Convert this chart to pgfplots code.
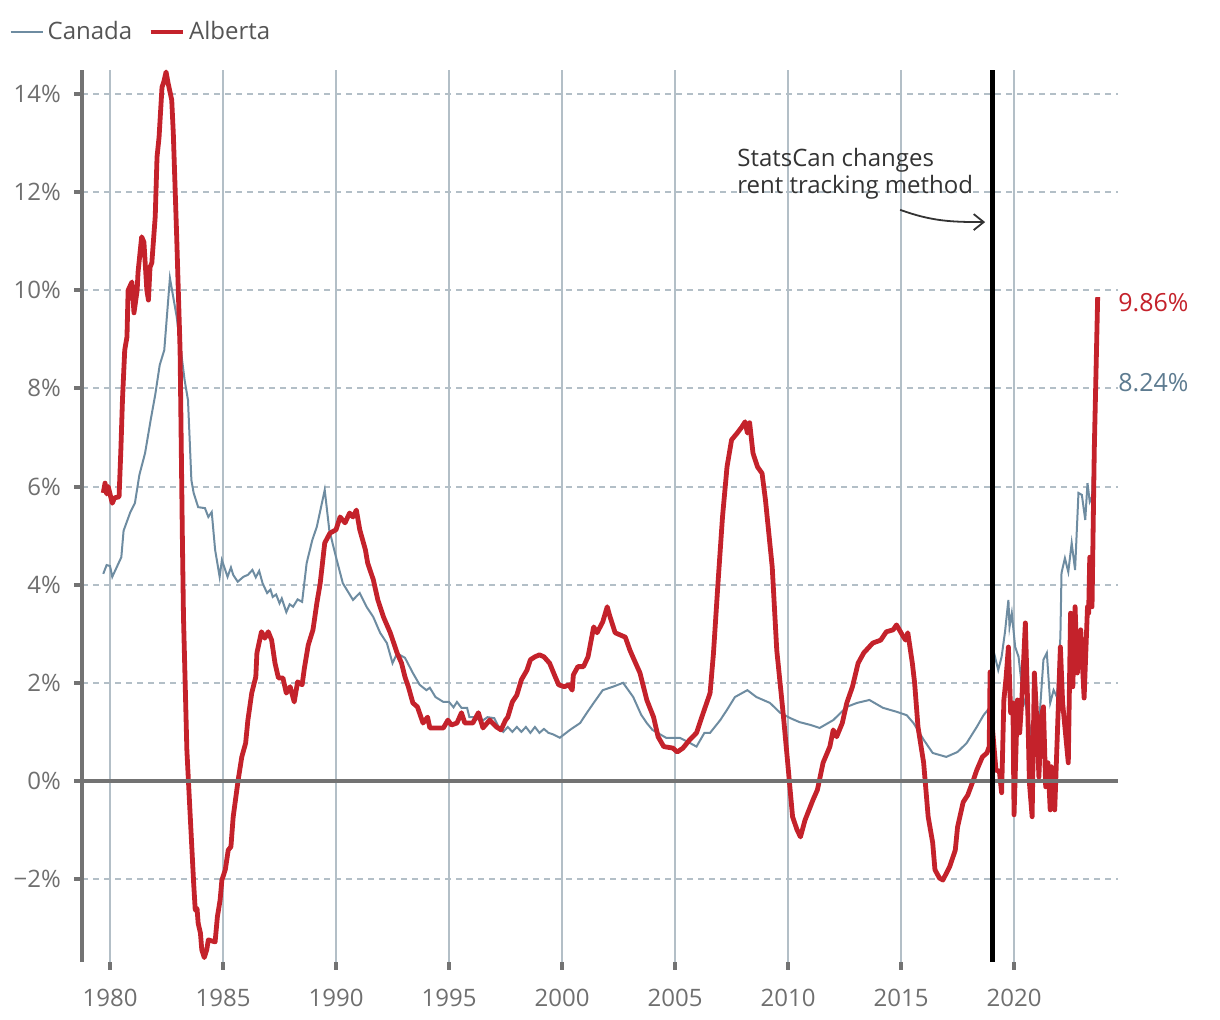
\documentclass[border=0pt]{standalone}
\usepackage{fontspec}
\setmainfont{Open Sans}
\usepackage{pgfplots}
\usepackage{pgfplotstable}
\pgfplotsset{compat=1.18}
\usetikzlibrary{arrows.meta}

\definecolor{cancol}{HTML}{6E8CA1}
\definecolor{abcol}{HTML}{C4222B}
\definecolor{axgray}{HTML}{737373}
\definecolor{gridcol}{HTML}{B3BFC7}
\definecolor{tickcol}{HTML}{6F6F6F}
\definecolor{legcol}{HTML}{555555}
\definecolor{notecol}{HTML}{333333}
\definecolor{canlab}{HTML}{5D7B90}

% Canada, year-over-year rent change (%)
\pgfplotstableread{
year val
1979.70 4.22
1979.85 4.40
1980.00 4.38
1980.10 4.16
1980.30 4.36
1980.50 4.56
1980.60 5.10
1980.90 5.48
1981.10 5.66
1981.30 6.24
1981.55 6.68
1981.80 7.36
1982.00 7.87
1982.20 8.48
1982.40 8.78
1982.65 10.25
1982.95 9.46
1983.30 8.17
1983.45 7.76
1983.60 6.13
1983.70 5.87
1983.90 5.58
1984.20 5.56
1984.35 5.38
1984.50 5.48
1984.65 4.71
1984.85 4.16
1984.95 4.50
1985.20 4.16
1985.35 4.35
1985.45 4.20
1985.65 4.06
1985.90 4.16
1986.10 4.20
1986.30 4.30
1986.45 4.15
1986.60 4.28
1986.75 4.03
1986.95 3.83
1987.10 3.90
1987.20 3.75
1987.35 3.80
1987.50 3.62
1987.60 3.72
1987.80 3.44
1987.95 3.60
1988.10 3.55
1988.30 3.70
1988.50 3.65
1988.70 4.44
1988.95 4.91
1989.15 5.18
1989.50 5.93
1989.70 5.12
1990.00 4.56
1990.30 4.03
1990.75 3.69
1991.05 3.83
1991.35 3.55
1991.65 3.34
1991.95 3.02
1992.25 2.81
1992.50 2.40
1992.70 2.60
1993.05 2.51
1993.40 2.20
1993.70 1.96
1994.00 1.85
1994.15 1.90
1994.40 1.71
1994.75 1.61
1995.00 1.61
1995.20 1.50
1995.35 1.61
1995.55 1.49
1995.80 1.49
1995.90 1.30
1996.20 1.30
1996.40 1.20
1996.70 1.30
1997.00 1.28
1997.20 1.10
1997.40 1.00
1997.60 1.10
1997.80 1.00
1998.00 1.10
1998.20 1.00
1998.40 1.10
1998.60 0.98
1998.80 1.10
1999.00 0.98
1999.20 1.06
1999.40 0.98
1999.60 0.95
1999.90 0.88
2000.35 1.04
2000.80 1.18
2001.10 1.39
2001.40 1.59
2001.80 1.85
2002.25 1.92
2002.70 2.00
2003.15 1.71
2003.50 1.35
2003.75 1.18
2004.00 1.04
2004.60 0.88
2005.20 0.88
2005.55 0.80
2005.95 0.70
2006.30 0.98
2006.55 0.98
2007.00 1.24
2007.30 1.45
2007.65 1.71
2008.20 1.85
2008.60 1.71
2009.20 1.59
2009.65 1.39
2010.10 1.28
2010.50 1.20
2011.00 1.14
2011.40 1.08
2012.00 1.24
2012.60 1.51
2013.05 1.59
2013.60 1.65
2014.20 1.49
2014.80 1.41
2015.25 1.34
2015.55 1.18
2016.00 0.84
2016.40 0.57
2017.00 0.49
2017.50 0.59
2017.90 0.77
2018.35 1.10
2018.65 1.34
2018.95 1.51
2019.05 2.73
2019.30 2.26
2019.45 2.53
2019.60 3.04
2019.75 3.69
2019.80 3.14
2019.90 3.42
2020.05 2.73
2020.20 2.53
2020.40 1.71
2020.60 1.39
2020.85 0.63
2021.00 1.18
2021.15 1.45
2021.30 2.47
2021.45 2.61
2021.60 1.59
2021.75 1.85
2021.90 1.71
2022.05 2.93
2022.10 4.24
2022.25 4.54
2022.40 4.26
2022.55 4.85
2022.70 4.30
2022.85 5.87
2023.00 5.83
2023.15 5.32
2023.25 6.07
2023.35 5.69
2023.45 5.79
2023.67 8.24
}\canada

% Alberta
\pgfplotstableread{
year val
1979.70 5.87
1979.78 6.07
1979.85 5.85
1979.92 6.00
1980.10 5.66
1980.20 5.77
1980.40 5.79
1980.48 6.75
1980.55 7.76
1980.65 8.78
1980.75 9.05
1980.80 10.00
1980.97 10.17
1981.06 9.54
1981.20 10.00
1981.24 10.37
1981.40 11.09
1981.50 10.98
1981.63 10.00
1981.70 9.80
1981.77 10.47
1981.85 10.56
1982.00 11.50
1982.08 12.72
1982.17 13.12
1982.30 14.14
1982.38 14.25
1982.48 14.45
1982.57 14.22
1982.73 13.88
1982.80 13.20
1982.95 11.09
1983.10 8.78
1983.20 5.00
1983.25 3.35
1983.40 0.63
1983.55 -0.73
1983.70 -2.08
1983.77 -2.63
1983.85 -2.60
1983.90 -2.90
1984.00 -3.10
1984.06 -3.44
1984.17 -3.60
1984.28 -3.44
1984.35 -3.24
1984.65 -3.28
1984.75 -2.77
1984.87 -2.43
1984.95 -2.02
1985.10 -1.81
1985.23 -1.41
1985.35 -1.34
1985.45 -0.73
1985.67 0.02
1985.83 0.49
1986.00 0.77
1986.10 1.24
1986.27 1.79
1986.45 2.12
1986.50 2.61
1986.70 3.04
1986.85 2.91
1987.00 3.04
1987.15 2.87
1987.30 2.40
1987.45 2.10
1987.65 2.10
1987.80 1.79
1987.97 1.92
1988.15 1.61
1988.30 2.02
1988.50 1.96
1988.60 2.30
1988.77 2.77
1988.98 3.08
1989.15 3.62
1989.30 4.03
1989.50 4.85
1989.73 5.05
1990.00 5.12
1990.18 5.38
1990.40 5.26
1990.60 5.46
1990.75 5.38
1990.90 5.52
1991.05 5.12
1991.30 4.71
1991.40 4.44
1991.65 4.10
1991.85 3.69
1992.10 3.34
1992.40 3.02
1992.70 2.61
1992.90 2.40
1993.05 2.12
1993.20 1.92
1993.40 1.59
1993.60 1.51
1993.85 1.18
1994.05 1.30
1994.15 1.08
1994.75 1.08
1994.95 1.24
1995.10 1.14
1995.35 1.18
1995.55 1.39
1995.70 1.18
1996.05 1.18
1996.30 1.39
1996.50 1.08
1996.80 1.24
1997.10 1.10
1997.30 1.04
1997.50 1.24
1997.60 1.30
1997.80 1.61
1998.00 1.75
1998.20 2.06
1998.45 2.26
1998.60 2.47
1998.80 2.53
1999.00 2.57
1999.20 2.53
1999.45 2.40
1999.70 2.12
1999.85 1.96
2000.10 1.92
2000.30 1.96
2000.45 1.85
2000.50 2.16
2000.70 2.33
2000.95 2.33
2001.15 2.53
2001.40 3.14
2001.55 3.02
2001.80 3.24
2002.00 3.55
2002.10 3.38
2002.35 3.02
2002.80 2.93
2003.00 2.67
2003.15 2.51
2003.45 2.20
2003.75 1.65
2004.05 1.30
2004.25 0.90
2004.50 0.70
2004.90 0.67
2005.10 0.59
2005.35 0.67
2005.65 0.84
2005.95 0.98
2006.25 1.39
2006.55 1.79
2006.70 2.60
2006.90 4.03
2007.10 5.38
2007.30 6.40
2007.50 6.95
2007.75 7.09
2007.95 7.21
2008.10 7.32
2008.20 7.09
2008.30 7.30
2008.45 6.68
2008.65 6.40
2008.85 6.27
2009.00 5.73
2009.30 4.36
2009.50 2.67
2009.80 1.30
2010.00 0.29
2010.20 -0.73
2010.40 -1.00
2010.55 -1.14
2010.75 -0.80
2011.10 -0.39
2011.30 -0.18
2011.55 0.37
2011.85 0.70
2012.00 1.04
2012.15 0.90
2012.40 1.18
2012.60 1.59
2012.85 1.92
2013.10 2.40
2013.35 2.61
2013.55 2.71
2013.75 2.81
2014.10 2.87
2014.35 3.04
2014.65 3.08
2014.80 3.18
2015.05 2.98
2015.20 2.87
2015.30 3.02
2015.50 2.40
2015.60 2.00
2015.75 1.10
2016.00 0.37
2016.20 -0.73
2016.40 -1.26
2016.50 -1.81
2016.70 -1.98
2016.85 -2.02
2017.15 -1.75
2017.40 -1.41
2017.50 -0.94
2017.75 -0.43
2017.95 -0.29
2018.20 0.02
2018.35 0.22
2018.60 0.49
2018.80 0.57
2018.90 0.70
2018.94 2.22
2019.05 1.04
2019.20 0.22
2019.35 0.20
2019.45 -0.24
2019.55 1.65
2019.65 2.12
2019.75 2.73
2019.85 1.39
2019.95 1.59
2020.00 -0.69
2020.15 1.65
2020.25 0.98
2020.35 1.71
2020.50 3.22
2020.60 1.59
2020.68 -0.04
2020.80 -0.73
2020.90 2.20
2021.00 1.30
2021.10 0.08
2021.20 1.30
2021.30 1.51
2021.40 -0.12
2021.50 0.37
2021.60 -0.59
2021.65 0.29
2021.72 -0.04
2021.80 -0.59
2022.05 2.73
2022.15 1.59
2022.40 0.37
2022.50 3.42
2022.60 1.92
2022.70 3.55
2022.80 2.20
2022.95 3.08
2023.10 1.69
2023.25 3.55
2023.30 3.42
2023.35 4.56
2023.45 3.55
2023.55 6.75
2023.70 9.86
}\alberta

\begin{document}
\begin{tikzpicture}
\useasboundingbox (-41pt,-29pt) rectangle (569pt,481pt);
\begin{axis}[
  scale only axis,
  width=518pt, height=446pt,
  xmin=1978.76, xmax=2024.6,
  ymin=-3.69, ymax=14.49,
  axis x line*=bottom, axis y line*=left,
  x axis line style={draw=none},
  y axis line style={draw=axgray, line width=2pt},
  xtick={1980,1985,...,2020},
  xticklabels={1980,1985,1990,1995,2000,2005,2010,2015,2020},
  ytick={-2,0,...,14},
  yticklabels={−2\%,0\%,2\%,4\%,6\%,8\%,10\%,12\%,14\%},
  tick align=outside, major tick length=4pt,
  tick style={draw=axgray, line width=2pt},
  xmajorgrids, ymajorgrids,
  x grid style={gridcol, line width=1pt, solid},
  y grid style={gridcol, line width=1pt, dash pattern=on 3pt off 2.5pt},
  ticklabel style={font=\fontsize{12}{14}\selectfont, text=tickcol},
  xticklabel style={yshift=-6pt},
  yticklabel style={xshift=-3pt},
  clip=false,
  legend columns=-1,
  legend style={at={(-0.076,1.0426)}, anchor=west, draw=none, fill=none,
    font=\fontsize{12}{14}\selectfont, text=legcol,
    /tikz/every even column/.append style={column sep=6pt}},
  legend image code/.code={\draw[#1] (0pt,0pt) -- (16pt,0pt);},
]
\addplot[cancol, line width=1pt] table[x=year, y=val] {\canada};
\addlegendentry{Canada}
\addplot[abcol, line width=2.4pt, line join=round] table[x=year, y=val] {\alberta};
\addlegendentry{Alberta}

\draw[axgray, line width=2pt] (axis cs:1978.76,0) -- (axis cs:2024.6,0);
\draw[black, line width=2.5pt] (axis cs:2019.03,-3.69) -- (axis cs:2019.03,14.49);

\node[anchor=west, align=left, text=notecol, font=\fontsize{12}{13.5}\selectfont, inner sep=0pt]
  at (axis cs:2007.74,12.37) {StatsCan changes\\rent tracking method};
\draw[notecol, line width=0.9pt, -{Straight Barb[length=5pt, width=8pt]}]
  (axis cs:2014.96,11.64) to[out=-20, in=180] (axis cs:2018.72,11.39);

\node[anchor=west, inner sep=0pt, text=abcol, font=\fontsize{12.5}{14}\selectfont] at (axis cs:2024.6,9.74) {9.86\%};
\node[anchor=west, inner sep=0pt, text=canlab, font=\fontsize{12.5}{14}\selectfont] at (axis cs:2024.6,8.11) {8.24\%};
\end{axis}
\end{tikzpicture}
\end{document}
